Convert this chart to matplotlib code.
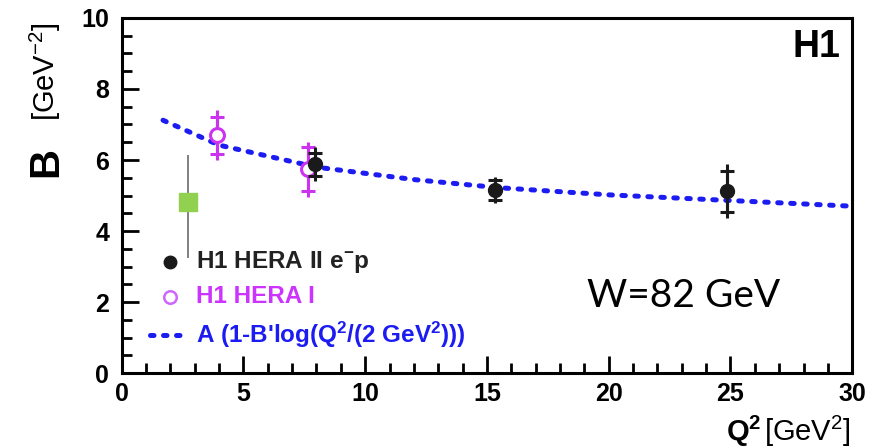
import matplotlib.pyplot as plt
from matplotlib.ticker import MultipleLocator

# H1 HERA II e-p measurements: Q2, B, stat error, total error
q2_hera2 = [7.93, 15.33, 24.85]
b_hera2 = [5.88, 5.16, 5.12]
stat_hera2 = [0.33, 0.28, 0.58]
tot_hera2 = [0.48, 0.36, 0.76]

# H1 HERA I measurements
q2_hera1 = [3.9, 7.65]
b_hera1 = [6.70, 5.74]
stat_hera1 = [0.52, 0.62]
tot_hera1 = [0.70, 0.78]

# extra point with its error range
q2_extra = [2.73]
b_extra = [4.83]
b_extra_lo = [3.24]
b_extra_hi = [6.14]

# fitted curve A(1 - B' log(Q2 / 2 GeV2))
q2_fit = [1.7, 4.0, 8.0, 12.0, 15.5, 20.0, 25.0, 30.0]
b_fit = [7.12, 6.42, 5.80, 5.45, 5.22, 5.02, 4.86, 4.70]

black = '#1a1a1a'
magenta = '#cc33ee'
blue = '#1c1cf2'
green = '#92d050'

plt.rcParams['font.family'] = ['Liberation Sans', 'DejaVu Sans']
plt.rcParams['mathtext.default'] = 'regular'

fig = plt.figure(figsize=(8.75, 4.48), dpi=100)
ax = fig.add_axes([0.139, 0.167, 0.835, 0.793])

ax.plot(q2_fit, b_fit, color=blue, lw=3.6, dashes=(0.7, 1.9),
        dash_capstyle='round', zorder=2)

# extra point: grey range line with a green square
ax.vlines(q2_extra, b_extra_lo, b_extra_hi, color='#808080', lw=1.4, zorder=3)
ax.plot(q2_extra, b_extra, 's', color=green, ms=13.5, mec=green, zorder=4)

# HERA I: total error line plus stat caps
ax.errorbar(q2_hera1, b_hera1, yerr=tot_hera1, fmt='none', ecolor=magenta,
            elinewidth=2.2, capsize=0, zorder=4)
ax.errorbar(q2_hera1, b_hera1, yerr=stat_hera1, fmt='none', ecolor=magenta,
            elinewidth=2.2, capsize=5, capthick=2.2, zorder=4)
ax.plot(q2_hera1, b_hera1, 'o', ms=10, mfc='white', mec=magenta, mew=2.2, zorder=5)

# HERA II: total error line plus stat caps
ax.errorbar(q2_hera2, b_hera2, yerr=tot_hera2, fmt='none', ecolor=black,
            elinewidth=2.2, capsize=0, zorder=6)
ax.errorbar(q2_hera2, b_hera2, yerr=stat_hera2, fmt='none', ecolor=black,
            elinewidth=2.2, capsize=5, capthick=2.2, zorder=6)
ax.plot(q2_hera2, b_hera2, 'o', ms=10, color=black, zorder=7)

ax.set_xlim(0, 30)
ax.set_ylim(0, 10)
ax.xaxis.set_major_locator(MultipleLocator(5))
ax.xaxis.set_minor_locator(MultipleLocator(1))
ax.yaxis.set_major_locator(MultipleLocator(2))
ax.yaxis.set_minor_locator(MultipleLocator(0.5))
ax.tick_params(axis='x', which='both', direction='in', width=2, color='black',
               bottom=True, top=False, labelsize=18, pad=6)
ax.tick_params(axis='y', which='both', direction='in', width=2, color='black',
               left=True, right=False, labelsize=18, pad=9)
ax.tick_params(which='major', length=12)
ax.tick_params(which='minor', length=7)
for lab in ax.get_xticklabels() + ax.get_yticklabels():
    lab.set_fontweight('bold')
for sp in ax.spines.values():
    sp.set_linewidth(2.2)

# hand-made legend
ax.plot([1.97], [3.14], 'o', color=black, ms=9)
ax.text(3.07, 3.14, 'H1 HERA II e$^{-}$p', color='#222222', fontsize=17.5,
        fontweight='bold', va='center')
ax.plot([1.97], [2.15], 'o', mfc='white', mec='#cc66ff', mew=1.8, ms=9)
ax.text(3.07, 2.15, 'H1 HERA I', color='#cc33ff', fontsize=17.5,
        fontweight='bold', va='center')
ax.plot([1.15, 2.4], [1.07, 1.07], color=blue, lw=3.6, dashes=(0.7, 1.9),
        dash_capstyle='round')
ax.text(3.07, 1.07, "A (1-B'log(Q$^2$/(2 GeV$^2$)))", color=blue, fontsize=17.5,
        fontweight='bold', va='center')

ax.text(0.984, 0.89, 'H1', transform=ax.transAxes, fontsize=27,
        fontweight='bold', ha='right', va='baseline')
ax.text(0.637, 0.185, 'W=82 GeV', transform=ax.transAxes, fontsize=28,
        family='Lato', ha='left', va='baseline')

# axis titles
fig.text(66 / 875, 1 - 162 / 448, 'B', rotation=90, fontsize=30,
         fontweight='bold', ha='right', va='center')
fig.text(63 / 875, 1 - 72 / 448, '[GeV$^{-2}$]', rotation=90, fontsize=21,
         ha='right', va='center')
fig.text(761 / 875, 1 - 441 / 448, 'Q$^2$', fontsize=21, fontweight='bold',
         ha='right', va='baseline')
fig.text(851 / 875, 1 - 441 / 448, '[GeV$^2$]', fontsize=21,
         ha='right', va='baseline')

fig.savefig('out.png', dpi=100)
